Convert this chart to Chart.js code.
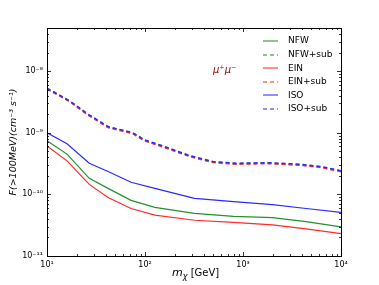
<!DOCTYPE html>
<html>
<head>
<meta charset="utf-8">
<script src="https://cdn.jsdelivr.net/npm/chart.js@4/dist/chart.umd.min.js"></script>
<style>
  html, body { margin: 0; padding: 0; background: #fff; }
  #wrap { width: 379px; height: 285px; }
</style>
</head>
<body>
<div id="wrap"><canvas id="canvas" width="379" height="285"></canvas></div>
<script>
// DATA
var massSolid = [10, 16, 27, 42, 72, 126, 320, 800, 2000, 4400, 10000];
var nfw = [7.4e-10, 4.5e-10, 1.82e-10, 1.25e-10, 8.0e-11, 6.15e-11, 4.9e-11, 4.4e-11, 4.2e-11, 3.6e-11, 2.97e-11];
var ein = [6.1e-10, 3.5e-10, 1.45e-10, 8.9e-11, 5.9e-11, 4.6e-11, 3.8e-11, 3.5e-11, 3.2e-11, 2.75e-11, 2.3e-11];
var iso = [1.0e-9, 6.6e-10, 3.2e-10, 2.35e-10, 1.57e-10, 1.25e-10, 8.6e-11, 7.6e-11, 6.8e-11, 5.9e-11, 5.1e-11];

var massSub = [10, 17, 26, 42, 62, 75, 100, 148, 286, 495, 855, 1860, 3780, 6500, 10000];
var nfwSub = [5.2e-9, 3.25e-9, 1.98e-9, 1.23e-9, 1.06e-9, 9.8e-10, 7.45e-10, 6.1e-10, 4.18e-10, 3.34e-10, 3.14e-10, 3.21e-10, 3.02e-10, 2.75e-10, 2.38e-10];
var einSub = [5.1e-9, 3.2e-9, 1.95e-9, 1.21e-9, 1.04e-9, 9.6e-10, 7.3e-10, 5.95e-10, 4.1e-10, 3.28e-10, 3.08e-10, 3.15e-10, 2.97e-10, 2.7e-10, 2.33e-10];
var isoSub = [5.3e-9, 3.3e-9, 2.02e-9, 1.26e-9, 1.08e-9, 1.0e-9, 7.6e-10, 6.2e-10, 4.25e-10, 3.4e-10, 3.2e-10, 3.27e-10, 3.08e-10, 2.8e-10, 2.42e-10];

var labels = ['NFW', 'NFW+sub', 'EIN', 'EIN+sub', 'ISO', 'ISO+sub'];

var sup = {'-': '\u207B', '0': '\u2070', '1': '\u00B9', '2': '\u00B2', '3': '\u00B3', '4': '\u2074',
           '5': '\u2075', '6': '\u2076', '7': '\u2077', '8': '\u2078', '9': '\u2079'};
function powLabel(v) {
    var e = Math.round(Math.log10(v));
    if (Math.abs(Math.log10(v) - e) > 1e-6) return '';
    return '10' + String(e).split('').map(function (c) { return sup[c]; }).join('');
}

function pts(xs, ys) {
    return xs.map(function (x, i) { return {x: x, y: ys[i]}; });
}

// 1..9 x 10^k ticks, like matplotlib minor ticks
function logTicks(min, max) {
    var out = [];
    for (var e = Math.floor(Math.log10(min)); e <= Math.ceil(Math.log10(max)); e++) {
        for (var m = 1; m < 10; m++) {
            var v = m * Math.pow(10, e);
            if (v >= min * 0.999 && v <= max * 1.001) out.push({value: v, major: m === 1});
        }
    }
    return out;
}

function ds(label, xs, ys, color, dashed, order) {
    return {
        label: label,
        data: pts(xs, ys),
        borderColor: color,
        backgroundColor: color,
        borderWidth: dashed ? 1.5 : 1.2,
        borderDash: dashed ? [4, 3] : [],
        pointRadius: 0,
        tension: 0,
        fill: false,
        order: order
    };
}

var datasets = [
    ds(labels[0], massSolid, nfw, '#22922a', false, 5),
    ds(labels[1], massSub, nfwSub, '#22922a', true, 4),
    ds(labels[2], massSolid, ein, '#ff2a2a', false, 3),
    ds(labels[3], massSub, einSub, '#ff2a2a', true, 2),
    ds(labels[4], massSolid, iso, '#2a2aff', false, 1),
    ds(labels[5], massSub, isoSub, '#2a2aff', true, 0)
];

// frame, inward ticks, axis titles, legend, annotation
var decor = {
    id: 'decor',
    afterDraw: function (chart) {
        var ctx = chart.ctx, a = chart.chartArea;
        var xs = chart.scales.x, ys = chart.scales.y;
        ctx.save();
        ctx.strokeStyle = '#000';
        ctx.lineWidth = 1;
        ctx.setLineDash([]);
        ctx.strokeRect(a.left + 0.5, a.top + 0.5, a.right - a.left, a.bottom - a.top);

        ctx.lineWidth = 0.8;
        ctx.beginPath();
        xs.ticks.forEach(function (t) {
            var px = Math.round(xs.getPixelForValue(t.value)) + 0.5;
            var len = t.major ? 4 : 2;
            ctx.moveTo(px, a.bottom); ctx.lineTo(px, a.bottom - len);
            ctx.moveTo(px, a.top); ctx.lineTo(px, a.top + len);
        });
        ys.ticks.forEach(function (t) {
            var py = Math.round(ys.getPixelForValue(t.value)) + 0.5;
            var len = t.major ? 4 : 2;
            ctx.moveTo(a.left, py); ctx.lineTo(a.left + len, py);
            ctx.moveTo(a.right, py); ctx.lineTo(a.right - len, py);
        });
        ctx.stroke();

        // x title
        ctx.fillStyle = '#000';
        ctx.textBaseline = 'alphabetic';
        var cx = (a.left + a.right) / 2 - 22;
        ctx.font = 'italic 11px "DejaVu Sans"';
        ctx.textAlign = 'left';
        ctx.fillText('m', cx, 276);
        var w = ctx.measureText('m').width;
        ctx.font = 'italic 8px "DejaVu Sans"';
        ctx.fillText('\u03C7', cx + w, 279);
        w += ctx.measureText('\u03C7').width;
        ctx.font = '10px "DejaVu Sans"';
        ctx.fillText(' [GeV]', cx + w, 276);

        // y title
        ctx.save();
        ctx.translate(16, (a.top + a.bottom) / 2);
        ctx.rotate(-Math.PI / 2);
        ctx.textAlign = 'center';
        ctx.font = 'italic 9.5px "DejaVu Sans"';
        ctx.fillText('F(>100MeV)(cm\u207B\u00B3 s\u207B\u00B9)', 0, 0);
        ctx.restore();

        // annotation
        ctx.fillStyle = '#8b0000';
        ctx.font = 'italic 10px "DejaVu Sans"';
        ctx.textAlign = 'left';
        ctx.fillText('\u03BC\u207A\u03BC\u207B', 213, 73);

        // legend
        ctx.font = '9px "DejaVu Sans"';
        ctx.textBaseline = 'middle';
        chart.data.datasets.forEach(function (d, i) {
            var y = 41 + i * 13.6;
            ctx.strokeStyle = d.borderColor;
            ctx.globalAlpha = 0.7;
            ctx.lineWidth = 1.5;
            ctx.setLineDash(d.borderDash.length ? [4, 3] : []);
            ctx.beginPath();
            ctx.moveTo(263, Math.round(y));
            ctx.lineTo(278, Math.round(y));
            ctx.stroke();
            ctx.globalAlpha = 1;
            ctx.fillStyle = '#000';
            ctx.fillText(d.label, 288, y);
        });
        ctx.restore();
    }
};

var config = {
    type: 'line',
    data: {datasets: datasets},
    options: {
        responsive: false,
        animation: false,
        events: [],
        layout: {padding: {left: 0, top: 28, right: 38, bottom: 0}},
        plugins: {legend: {display: false}, tooltip: {enabled: false}},
        scales: {
            x: {
                type: 'logarithmic',
                min: 10, max: 10000,
                bounds: 'data',
                grid: {display: false, drawTicks: false},
                border: {display: false},
                afterBuildTicks: function (s) { s.ticks = logTicks(10, 10000); },
                afterFit: function (s) { s.height = 29; },
                ticks: {
                    autoSkip: false, maxRotation: 0, padding: 4, color: '#000',
                    font: {family: 'DejaVu Sans', size: 8},
                    callback: function (v) { return powLabel(v); }
                }
            },
            y: {
                type: 'logarithmic',
                min: 1e-11, max: 5e-8,
                bounds: 'data',
                grid: {display: false, drawTicks: false},
                border: {display: false},
                afterBuildTicks: function (s) { s.ticks = logTicks(1e-11, 5e-8); },
                afterFit: function (s) { s.width = 47; },
                ticks: {
                    autoSkip: false, padding: 4, color: '#000',
                    font: {family: 'DejaVu Sans', size: 8},
                    callback: function (v) { return powLabel(v); }
                }
            }
        }
    },
    plugins: [decor]
};

var chart = new Chart(document.getElementById('canvas').getContext('2d'), config);
</script>
</body>
</html>
